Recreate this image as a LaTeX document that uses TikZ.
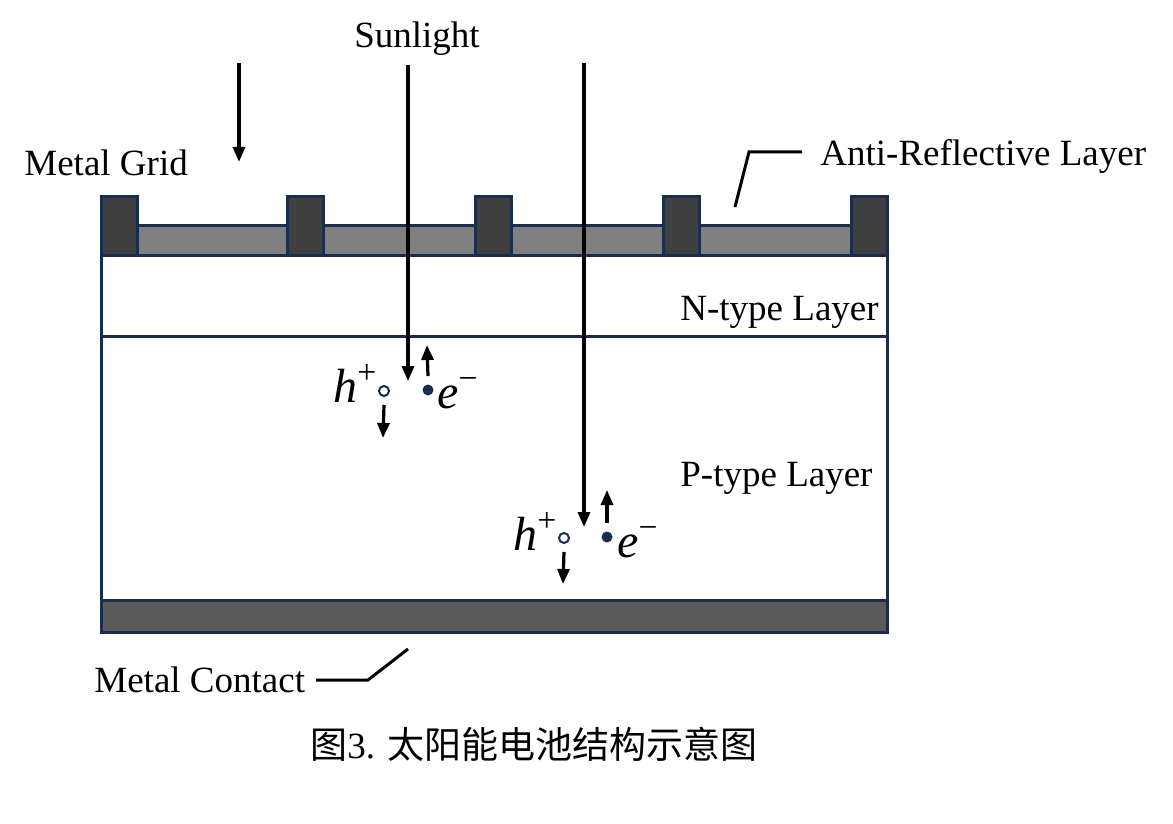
\documentclass[tikz,border=0pt]{standalone}
\usepackage{fontspec}
\setmainfont{Liberation Serif}
\newfontfamily\cjk{Noto Sans CJK SC}
\usetikzlibrary{arrows.meta}
\definecolor{cellnavy}{HTML}{1B2D4F}
\definecolor{argray}{HTML}{808080}
\definecolor{griddark}{HTML}{404040}
\definecolor{contactgray}{HTML}{5A5A5A}

\begin{document}
\begin{tikzpicture}[x=0.5pt,y=-0.5pt]
	\tikzset{layer/.style={draw=cellnavy,line width=1.5pt},
		ray/.style={line width=1.6pt,-{Triangle[length=7.5pt,width=6pt]}},
		lead/.style={line width=1.5pt},
		lbl/.style={font=\fontsize{18.5}{22}\selectfont,inner sep=0pt},
		carrier/.style={font=\fontsize{24}{27}\selectfont\itshape,inner sep=0pt},
		hole/.style={circle,draw=cellnavy,fill=white,line width=1pt,inner sep=0pt,minimum size=5pt},
		electron/.style={circle,fill=cellnavy,inner sep=0pt,minimum size=5.5pt}}

	\useasboundingbox (0,0) rectangle (1173,824);

	% Layers (top to bottom)
	\draw[layer,fill=argray] (101,225) rectangle (887,255);
	\draw[layer,fill=white] (101,255) rectangle (887,336);
	\draw[layer,fill=white] (101,336) rectangle (887,600);
	\draw[layer,fill=contactgray] (101,600) rectangle (887,632);

	% Metal grid fingers
	\foreach \gx in {101,287,475,663,851}
		\draw[layer,fill=griddark] (\gx,196) rectangle ++(36,59);

	% Sunlight rays
	\node[lbl,anchor=base] (sun) at (417,48) {Sunlight};
	\coordinate (rayAs) at (239,63);  \coordinate (rayAe) at (239,162);
	\coordinate (rayBs) at (408,65);  \coordinate (rayBe) at (408,381);
	\coordinate (rayCs) at (584,63);  \coordinate (rayCe) at (584,527);
	\draw[ray] (rayAs) -- (rayAe);
	\draw[ray] (rayBs) -- (rayBe);
	\draw[ray] (rayCs) -- (rayCe);

	% Electron-hole pair in the upper part of the P layer
	\node[hole] (holeA) at (384,391) {};
	\node[electron] (elecA) at (428,390) {};
	\node[carrier,anchor=base west] (hA) at (333,402) {h\textsuperscript{\upshape +}};
	\node[carrier,anchor=base west] (eA) at (437,408) {e\textsuperscript{\upshape −}};
	\coordinate (holeAe) at (383,438);
	\coordinate (elecAe) at (427,345);
	\draw[ray] ([yshift=-4pt]holeA.south) -- (holeAe);
	\draw[ray] ([yshift=4pt]elecA.north) -- (elecAe);

	% Electron-hole pair deeper in the P layer
	\node[hole] (holeB) at (564,538) {};
	\node[electron] (elecB) at (607,537) {};
	\node[carrier,anchor=base west] (hB) at (513,550) {h\textsuperscript{\upshape +}};
	\node[carrier,anchor=base west] (eB) at (617,557) {e\textsuperscript{\upshape −}};
	\coordinate (holeBe) at (563,584);
	\coordinate (elecBe) at (607,490);
	\draw[ray] ([yshift=-4pt]holeB.south) -- (holeBe);
	\draw[ray] ([yshift=4pt]elecB.north) -- (elecBe);

	% Labels
	\node[lbl,anchor=base west] (grid) at (24,176) {Metal Grid};
	\node[lbl,anchor=base west] (arl) at (820,165) {Anti-Reflective Layer};
	\node[lbl,anchor=base west] (ntype) at (680,320) {N-type Layer};
	\node[lbl,anchor=base west] (ptype) at (680,486) {P-type Layer};
	\node[lbl,anchor=base west] (contact) at (94,692) {Metal Contact};

	% Leader lines
	\coordinate (arlA) at (735,207);
	\coordinate (arlB) at (749,152);
	\coordinate (arlC) at (802,152);
	\draw[lead] (arlA) -- (arlB) -- (arlC);
	\coordinate (conA) at (316,680);
	\coordinate (conB) at (368,680);
	\coordinate (conC) at (408,649);
	\draw[lead] (conA) -- (conB) -- (conC);

	% Caption
	\node[inner sep=0pt,anchor=base] (cap) at (534,758)
		{\fontsize{18.5}{22}\selectfont {\cjk 图}3. {\cjk 太阳能电池结构示意图}};
\end{tikzpicture}
\end{document}
